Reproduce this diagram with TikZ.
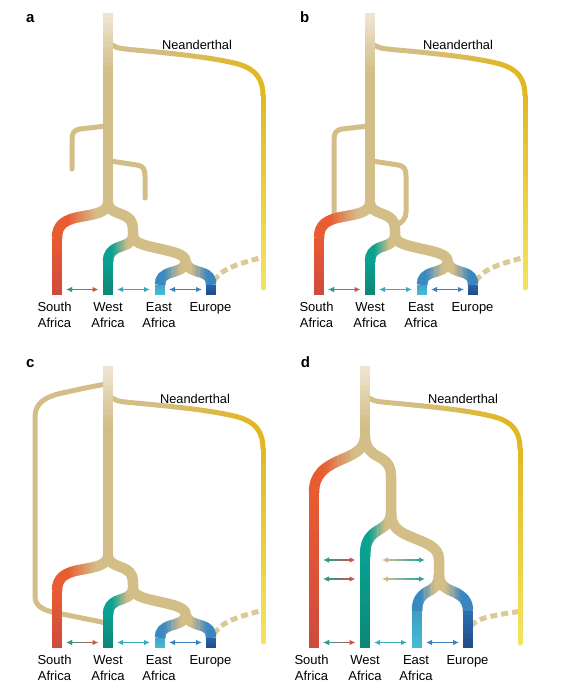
\documentclass[tikz,border=0pt]{standalone}
\usepackage{fontspec}
\setmainfont{Liberation Sans}
\usetikzlibrary{arrows.meta}
\definecolor{cTan}{HTML}{D4BE88}
\definecolor{cTop}{HTML}{EFE6D3}
\definecolor{cGold}{HTML}{E1B824}
\definecolor{cYel}{HTML}{F4E45E}
\definecolor{cSAt}{HTML}{E95B30}
\definecolor{cSAb}{HTML}{CE4B3E}
\definecolor{cWAt}{HTML}{08A192}
\definecolor{cWAb}{HTML}{0C8776}
\definecolor{cEAt}{HTML}{3A89C1}
\definecolor{cEAb}{HTML}{46BDD1}
\definecolor{cEUt}{HTML}{3986C0}
\definecolor{cEUb}{HTML}{1E4A8A}
\definecolor{cDash}{HTML}{DCC994}
\definecolor{cArT}{HTML}{2E9A8C}
\definecolor{cArR}{HTML}{C65746}
\definecolor{cArC}{HTML}{3AAAC0}
\definecolor{cArB}{HTML}{3A80BE}
\definecolor{cArK}{HTML}{C9BA8A}
\definecolor{cArTT}{HTML}{2AA39C}
\tikzset{
  br/.style={line width=10.5pt, line cap=butt},
  rb/.style={line width=5pt, line cap=round},
  arr/.style={line width=1.4pt, {Latex[length=6pt,width=5.5pt]}-{Latex[length=6pt,width=5.5pt]}},
  lab/.style={font=\fontsize{13}{16}\selectfont, align=center, inner sep=0pt},
  nlab/.style={font=\fontsize{12.8}{16}\selectfont, inner sep=0pt, anchor=base},
  plab/.style={font=\fontsize{15}{18}\selectfont\bfseries, inner sep=0pt, anchor=base west},
  dsh/.style={line width=5pt, dash pattern=on 7pt off 4pt, color=cDash},
}
\newcommand\fl{\rule{0pt}{9.6pt}}
% horizontal gradient: #1 x0 < #2 x1, #3 colour at x0, #4 colour at x1, #5 options, #6 path
\newcommand\gradH[6]{%
  \begin{scope}\clip (-1000,-1000) rectangle (#1+0.2,1000);\draw[#5,color=#3] #6;\end{scope}%
  \begin{scope}\clip (#2-0.2,-1000) rectangle (1000,1000);\draw[#5,color=#4] #6;\end{scope}%
  \foreach \ii in {0,...,11}{%
    \pgfmathsetmacro\gxa{(#1)+((#2)-(#1))*\ii/12-0.2}%
    \pgfmathsetmacro\gxb{(#1)+((#2)-(#1))*(\ii+1)/12+0.2}%
    \pgfmathtruncatemacro\gpct{100*(\ii+0.5)/12}%
    \begin{scope}\clip (\gxa,-1000) rectangle (\gxb,1000);\draw[#5,color=#4!\gpct!#3] #6;\end{scope}%
  }%
}
% vertical gradient: #1 y0 (top) < #2 y1, #3 colour at top, #4 at bottom
\newcommand\gradV[6]{%
  \begin{scope}\clip (-1000,-1000) rectangle (1000,#1+0.2);\draw[#5,color=#3] #6;\end{scope}%
  \begin{scope}\clip (-1000,#2-0.2) rectangle (1000,1000);\draw[#5,color=#4] #6;\end{scope}%
  \foreach \ii in {0,...,11}{%
    \pgfmathsetmacro\gya{(#1)+((#2)-(#1))*\ii/12-0.2}%
    \pgfmathsetmacro\gyb{(#1)+((#2)-(#1))*(\ii+1)/12+0.2}%
    \pgfmathtruncatemacro\gpct{100*(\ii+0.5)/12}%
    \begin{scope}\clip (-1000,\gya) rectangle (1000,\gyb);\draw[#5,color=#4!\gpct!#3] #6;\end{scope}%
  }%
}
\newcommand\neand[1]{%
  \gradH{150}{245}{cTan}{cGold}{rb}{(108,41) .. controls (113,48) and (120,48.5) .. (130,49.5) .. controls (180,54) and (215,58) .. (238,64) .. controls (255,69) and (263,78) .. (263,96)}%
  \gradV{96}{#1}{cGold}{cYel}{rb}{(263,96) -- (263,#1)}%
}
\newcommand\trunk[1]{\gradV{14}{72}{cTop}{cTan}{br}{(108,13) -- (108,#1)}}
\newcommand\labs[1]{%
  \node[lab,anchor=north] (#1-sa) at (54.5,301.5) {\fl South\\Africa};
  \node[lab,anchor=north] (#1-wa) at (108,301.5) {\fl West\\Africa};
  \node[lab,anchor=north] (#1-ea) at (159,301.5) {\fl East\\Africa};
  \node[lab,anchor=north] (#1-eu) at (210.5,301.5) {\fl Europe};
}
\newcommand\botarrows[1]{%
  \coordinate (#1-s1) at (66,289.5); \coordinate (#1-s2) at (98.5,289.5);
  \gradH{70}{94}{cArT}{cArR}{arr}{(#1-s1) -- (#1-s2)}%
  \coordinate (#1-w1) at (117,289.5); \coordinate (#1-w2) at (150,289.5);
  \draw[arr,cArC] (#1-w1) -- (#1-w2);
  \coordinate (#1-e1) at (169,289.5); \coordinate (#1-e2) at (202,289.5);
  \draw[arr,cArB] (#1-e1) -- (#1-e2);
}
\newcommand\treeabc[1]{%
  \gradH{68}{96}{cSAt}{cTan}{br}{(108,203) .. controls (107.5,212) and (96,214) .. (82,216.5) .. controls (64,219.5) and (57,225) .. (57,238)}%
  \gradV{238}{295}{cSAt}{cSAb}{br}{(57,237.8) -- (57,295)}%
  \draw[br,cTan] (108,203) .. controls (108.5,212) and (121,213) .. (127,217) .. controls (131.5,220) and (133,224) .. (133,231) -- (133,240);
  \gradH{112}{128}{cWAt}{cTan}{br}{(133,236) .. controls (132.5,244) and (124,245) .. (118,247.5) .. controls (111,250.5) and (108,254) .. (108,262)}%
  \gradV{262}{295}{cWAt}{cWAb}{br}{(108,261.8) -- (108,295)}%
  \draw[br,cTan] (133,236) .. controls (133.5,244) and (148,246) .. (165,250) .. controls (180,253.5) and (186,256) .. (186,263) -- (186,266);
  \gradH{164}{181}{cEAt}{cTan}{br}{(186,262) .. controls (185.5,269) and (177,270.5) .. (171,272.5) .. controls (163,275) and (160,278) .. (160,285)}%
  \gradV{276}{295}{cEAt}{cEAb}{br}{(160,284.8) -- (160,295)}%
  \gradH{191}{208}{cTan}{cEUt}{br}{(186,262) .. controls (186.5,269) and (195,270.5) .. (201,272.5) .. controls (209,275) and (211,278) .. (211,285)}%
  \gradV{276}{295}{cEUt}{cEUb}{br}{(211,284.8) -- (211,295)}%
  \botarrows{#1}%
  \labs{#1}%
}
\begin{document}
\begin{tikzpicture}[x=1pt,y=-1pt]
\useasboundingbox (0,0) rectangle (563,700);
\fill[white] (0,0) rectangle (563,700);
% ---------- panel a ----------
\begin{scope}
  \coordinate (a-d1) at (214,281); \coordinate (a-d2) at (262,257.5);
  \draw[dsh] (a-d1) .. controls (220,272) and (228,266) .. (a-d2);
  \draw[rb,cTan] (106,126) -- (80,129) .. controls (74,130) and (72,133) .. (72,140) -- (72,169);
  \draw[rb,cTan] (110,161) -- (137,165) .. controls (143,166) and (145,169) .. (145,176) -- (145,198);
  \neand{288}
  \trunk{213}
  \treeabc{a}
  \node[nlab] (a-nl) at (197,49.5) {Neanderthal};
\end{scope}
% ---------- panel b ----------
\begin{scope}[shift={(262,0)}]
  \coordinate (b-d1) at (214,281); \coordinate (b-d2) at (262,257.5);
  \draw[dsh] (b-d1) .. controls (220,272) and (228,266) .. (b-d2);
  \draw[rb,cTan] (106,126) -- (80,129) .. controls (74,130) and (72,133) .. (72,140) -- (72,216);
  \draw[rb,cTan] (110,161) -- (136,165) .. controls (142,166) and (144,169) .. (144,176) -- (144,212) .. controls (144,219) and (140,222) .. (135,225);
  \neand{288}
  \trunk{213}
  \treeabc{b}
  \node[nlab] (b-nl) at (196,49.5) {Neanderthal};
\end{scope}
% ---------- panel c ----------
\begin{scope}[shift={(0,353)}]
  \coordinate (c-d1) at (214,281); \coordinate (c-d2) at (262,257.5);
  \draw[dsh] (c-d1) .. controls (220,272) and (228,266) .. (c-d2);
  \draw[rb,cTan] (106,31) .. controls (95,33) and (80,36) .. (67,39) .. controls (45,43) and (35,50) .. (35,64) -- (35,243) .. controls (35,252) and (41,256) .. (52,259) -- (104,269.5);
  \neand{289}
  \trunk{213}
  \treeabc{c}
  \node[nlab] (c-nl) at (195,50.5) {Neanderthal};
\end{scope}
% ---------- panel d ----------
\begin{scope}[shift={(257,353)}]
  \coordinate (d-d1) at (214,273); \coordinate (d-d2) at (262,258.5);
  \draw[dsh] (d-d1) .. controls (221,265) and (232,263) .. (d-d2);
  \neand{290}
  \trunk{92}
  \gradH{66}{97}{cSAt}{cTan}{br}{(108,84) .. controls (108,94) and (100,100) .. (88,105) .. controls (66,114) and (57,122) .. (57,140)}%
  \gradV{140}{295}{cSAt}{cSAb}{br}{(57,139.8) -- (57,295)}%
  \draw[br,cTan] (108,84) .. controls (108,94) and (114,100) .. (122,104) .. controls (131,109) and (134,114) .. (134,124) -- (134,166);
  \gradH{112}{129}{cWAt}{cTan}{br}{(134,160) .. controls (134,170) and (128,173) .. (120,178) .. controls (111,184) and (108,190) .. (108,204)}%
  \gradV{204}{295}{cWAt}{cWAb}{br}{(108,203.8) -- (108,295)}%
  \draw[br,cTan] (134,160) .. controls (134,172) and (140,178) .. (152,183) .. controls (168,190) and (182,193) .. (182,207) -- (182,226);
  \gradH{164}{178}{cEAt}{cTan}{br}{(182,222) .. controls (182,233) and (176,236) .. (170,239) .. controls (163,243) and (160,248) .. (160,258)}%
  \gradV{240}{295}{cEAt}{cEAb}{br}{(160,257.8) -- (160,295)}%
  \gradH{188}{205}{cTan}{cEUt}{br}{(182,222) .. controls (182,233) and (190,236) .. (197,239) .. controls (206,243) and (211,248) .. (211,258)}%
  \gradV{240}{295}{cEUt}{cEUb}{br}{(211,257.8) -- (211,295)}%
  \coordinate (d-s3) at (66,207); \coordinate (d-s4) at (98.5,207);
  \gradH{70}{94}{cArT}{cArR}{arr}{(d-s3) -- (d-s4)}%
  \coordinate (d-s5) at (66,226); \coordinate (d-s6) at (98.5,226);
  \gradH{70}{94}{cArT}{cArR}{arr}{(d-s5) -- (d-s6)}%
  \coordinate (d-k1) at (125,207); \coordinate (d-k2) at (168,207);
  \gradH{130}{163}{cArK}{cArTT}{arr}{(d-k1) -- (d-k2)}%
  \coordinate (d-k3) at (125,226); \coordinate (d-k4) at (168,226);
  \gradH{130}{163}{cArK}{cArTT}{arr}{(d-k3) -- (d-k4)}%
  \botarrows{d}%
  \labs{d}%
  \node[nlab] (d-nl) at (206,50.5) {Neanderthal};
\end{scope}
% ---------- panel letters ----------
\node[plab] (pa) at (26,22.7) {a};
\node[plab] (pb) at (300,22.7) {b};
\node[plab] (pc) at (26,367.5) {c};
\node[plab] (pd) at (300.7,367.5) {d};
\end{tikzpicture}
\end{document}
